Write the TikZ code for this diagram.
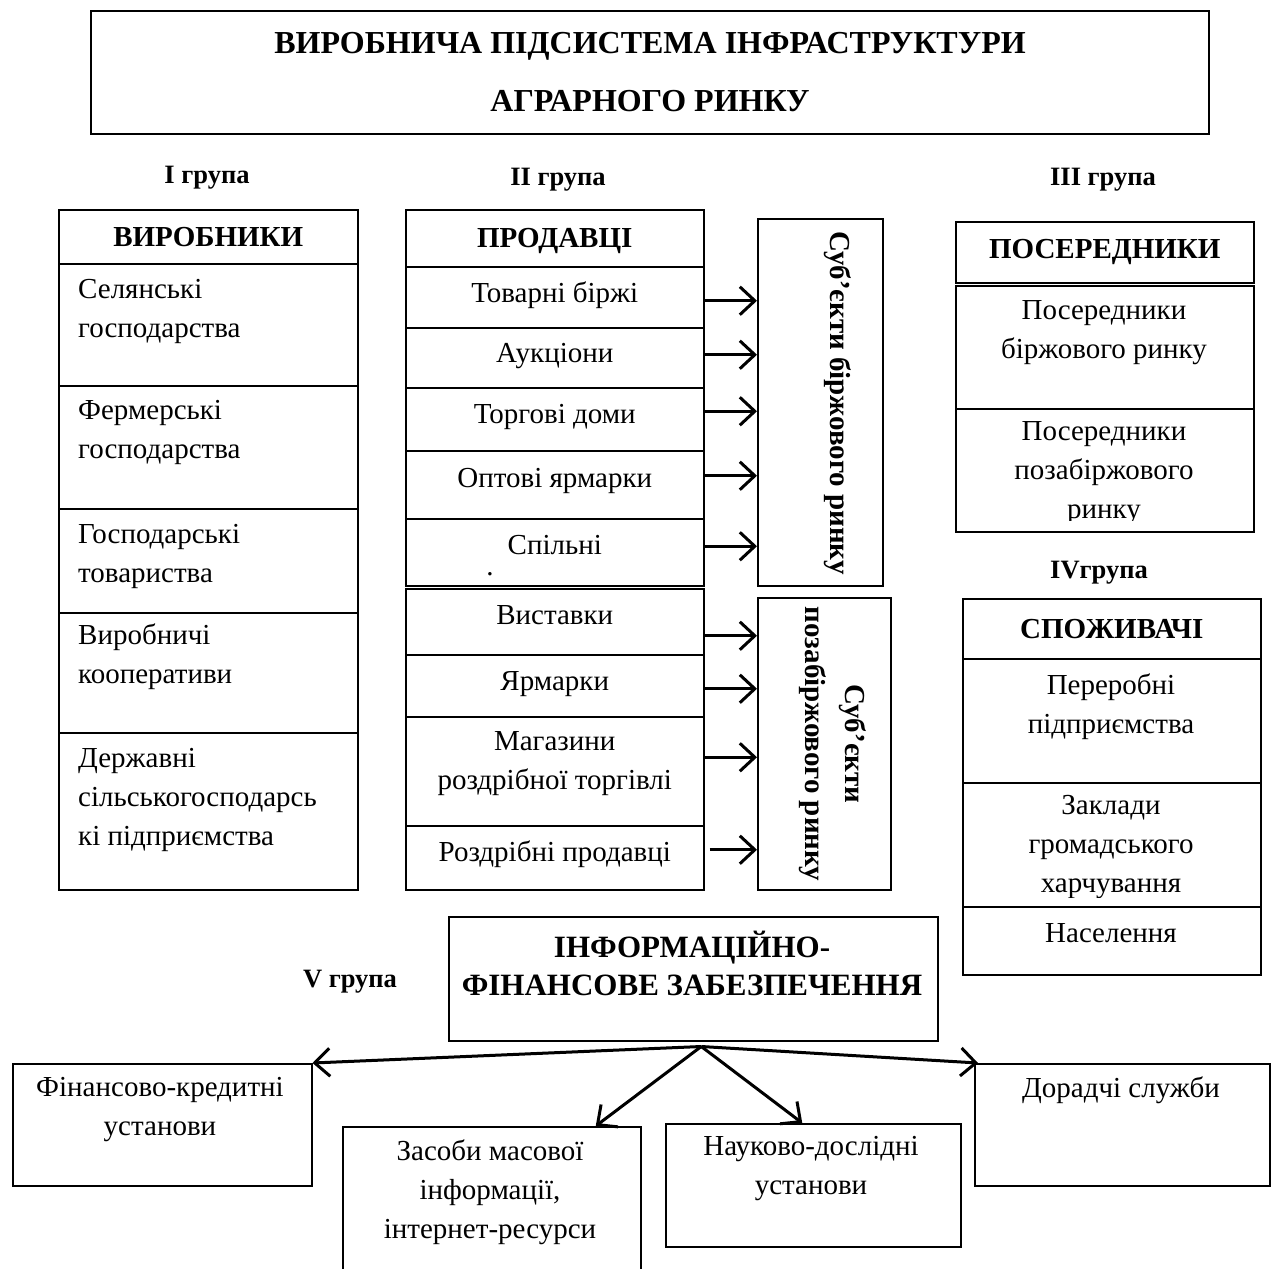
\documentclass[tikz,border=0pt]{standalone}
\usepackage{fontspec}
\setmainfont{Liberation Serif}
\usetikzlibrary{arrows.meta, positioning}
\begin{document}
\begin{tikzpicture}
    [x=1pt, y=-1pt,
    font=\fontsize{29}{39}\selectfont,
    box/.style={draw=black, line width=1.5pt, inner sep=0pt, anchor=north west},
    head/.style={font=\fontsize{29}{39}\selectfont\bfseries},
    cell/.style={box, minimum width=298pt, text depth=10pt, align=center},
    txt/.style={inner sep=0pt, align=center},
    txtl/.style={inner sep=0pt, align=left, anchor=north west},
    grp/.style={inner sep=0pt, font=\fontsize{26.5}{30}\selectfont\bfseries},
    arr/.style={line width=3pt, -{Straight Barb[length=15pt, width=28pt]}}]
    \clip (0,0) rectangle (1276,1268);
    % title
    \node [box, line width=2pt, minimum width=1118pt, minimum height=123pt, align=center,
        font=\fontsize{32}{58}\selectfont\bfseries] (title) at (90,10)
        {ВИРОБНИЧА ПІДСИСТЕМА ІНФРАСТРУКТУРИ\\АГРАРНОГО РИНКУ};
    \node [grp] (grp1) at (207,178) {I група};
    \node [grp] (grp2) at (558,180) {II група};
    \node [grp] (grp3) at (1103,180) {III група};
    \node [grp] (grp4) at (1099,573) {IVгрупа};
    \node [grp] (grp5) at (350,982) {V група};
    % I group
    \node [box, head, minimum width=299pt, minimum height=54pt] (vyrobnyky) at (58,209) {ВИРОБНИКИ};
    \node [box, minimum width=299pt, minimum height=122pt] (selyanski) at (58,263) {};
    \node [box, minimum width=299pt, minimum height=123pt] (fermerski) at (58,385) {};
    \node [box, minimum width=299pt, minimum height=104pt] (gosptov) at (58,508) {};
    \node [box, minimum width=299pt, minimum height=120pt] (vyrkoop) at (58,612) {};
    \node [box, minimum width=299pt, minimum height=157pt] (derzh) at (58,732) {};
    \node [txtl, below right=16pt and 20pt of selyanski.north west] (tselyanski) {Селянські\\господарства};
    \node [txtl, below right=15pt and 20pt of fermerski.north west] (tfermerski) {Фермерські\\господарства};
    \node [txtl, below right=16pt and 20pt of gosptov.north west] (tgosptov) {Господарські\\товариства};
    \node [txtl, below right=12pt and 20pt of vyrkoop.north west] (tvyrkoop) {Виробничі\\кооперативи};
    \node [txtl, below right=16pt and 20pt of derzh.north west] (tderzh) {Державні\\сільськогосподарсь\\кі підприємства};
    % II group
    \node [box, head, minimum width=298pt, minimum height=57pt, text depth=0pt] (prodavtsi) at (405,209) {ПРОДАВЦІ};
    \node [cell, minimum height=61pt] (birzhi) at (405,266) {Товарні біржі};
    \node [cell, minimum height=60pt] (auktsiony) at (405,327) {Аукціони};
    \node [cell, minimum height=63pt] (torgdomy) at (405,387) {Торгові доми};
    \node [cell, minimum height=68pt, text depth=14pt] (optovi) at (405,450) {Оптові ярмарки};
    \node [cell, minimum height=67pt, text depth=14pt] (spilni) at (405,518) {Спільні};
    \node [txt] (tdot) at (490,574) {.};
    \node [cell, minimum height=66pt, text depth=14pt] (vystavky) at (405,588) {Виставки};
    \node [cell, minimum height=62pt] (yarmarky) at (405,654) {Ярмарки};
    \node [cell, minimum height=109pt, text depth=22pt] (magazyny) at (405,716) {Магазини\\роздрібної торгівлі};
    \node [cell, minimum height=64pt, text depth=14pt] (rozdribni) at (405,825) {Роздрібні продавці};
    \node [box, minimum width=125pt, minimum height=367pt] (subbirzh) at (757,218) {};
    \node [txt, rotate=-90, font=\fontsize{29}{39}\selectfont\bfseries] (tsubbirzh) at (838,403) {Суб’єкти біржового ринку};
    \node [box, minimum width=133pt, minimum height=292pt] (subpozab) at (757,597) {};
    \node [txt, rotate=-90, font=\fontsize{29}{40}\selectfont\bfseries] (tsubpozab) at (833,744) {Суб’єкти\\позабіржового ринку};
    \draw [arr] ([yshift=-3.5pt]birzhi.east) -- ([yshift=-3.5pt]birzhi.east -| subbirzh.west);
    \draw [arr] ([yshift=3pt]auktsiony.east) -- ([yshift=3pt]auktsiony.east -| subbirzh.west);
    \draw [arr] ([yshift=8pt]torgdomy.east) -- ([yshift=8pt]torgdomy.east -| subbirzh.west);
    \draw [arr] ([yshift=9pt]optovi.east) -- ([yshift=9pt]optovi.east -| subbirzh.west);
    \draw [arr] ([yshift=6pt]spilni.east) -- ([yshift=6pt]spilni.east -| subbirzh.west);
    \draw [arr] ([yshift=-14pt]vystavky.east) -- ([yshift=-14pt]vystavky.east -| subpozab.west);
    \draw [arr] ([yshift=-3pt]yarmarky.east) -- ([yshift=-3pt]yarmarky.east -| subpozab.west);
    \draw [arr] ([yshift=14pt]magazyny.east) -- ([yshift=14pt]magazyny.east -| subpozab.west);
    \draw [arr] ([yshift=8pt, xshift=5pt]rozdribni.east) -- ([yshift=8pt]rozdribni.east -| subpozab.west);
    % III group
    \node [box, head, minimum width=298pt, minimum height=61pt] (poserednyky) at (955,221) {ПОСЕРЕДНИКИ};
    \node [box, minimum width=298pt, minimum height=123pt] (posbirzh) at (955,285) {};
    \node [box, minimum width=298pt, minimum height=123pt] (pospozab) at (955,408) {};
    \node [txt] (tposbirzh) at (1104,333) {Посередники\\біржового ринку};
    \begin{scope}
        \clip (955,408) rectangle (1253,520);
        \node [txt] (tpospozab) at (1104,473) {Посередники\\позабіржового\\ринку};
    \end{scope}
    % IV group
    \node [box, head, minimum width=298pt, minimum height=60pt] (spozhyvachi) at (962,598) {СПОЖИВАЧІ};
    \node [box, minimum width=298pt, minimum height=124pt] (pererobni) at (962,658) {};
    \node [box, minimum width=298pt, minimum height=124pt] (zaklady) at (962,782) {};
    \node [box, minimum width=298pt, minimum height=68pt] (naselennya) at (962,906) {};
    \node [txt] (tpererobni) at (1111,707) {Переробні\\підприємства};
    \begin{scope}
        \clip (962,782) rectangle (1260,897);
        \node [txt] (tzaklady) at (1111,847) {Заклади\\громадського\\харчування};
    \end{scope}
    \node [txt] (tnaselennya) at (1111,933) {Населення};
    % V group
    \node [box, minimum width=489pt, minimum height=124pt] (infofin) at (448,916) {};
    \node [txt, font=\fontsize{31}{38}\selectfont\bfseries] (tinfofin) at (692,963) {ІНФОРМАЦІЙНО-\\ФІНАНСОВЕ ЗАБЕЗПЕЧЕННЯ};
    \node [box, minimum width=299pt, minimum height=122pt] (finkred) at (12,1063) {};
    \node [box, minimum width=298pt, minimum height=170pt] (zmi) at (342,1126) {};
    \node [box, minimum width=295pt, minimum height=123pt] (naukdosl) at (665,1123) {};
    \node [box, minimum width=295pt, minimum height=122pt] (doradchi) at (974,1063) {};
    \node [txt] (tfinkred) at (160,1110) {Фінансово-кредитні\\установи};
    \node [txt] (tzmi) at (490,1192) {Засоби масової\\інформації,\\інтернет-ресурси};
    \node [txt] (tnaukdosl) at (811,1169) {Науково-дослідні\\установи};
    \node [txt] (tdoradchi) at (1121,1090) {Дорадчі служби};
    \coordinate (hub) at ([xshift=8pt, yshift=-5pt]infofin.south);
    \draw [arr] (hub) -- (finkred.north east);
    \draw [arr] (hub) -- ([xshift=104pt]zmi.north);
    \draw [arr] (hub) -- ([xshift=-11pt]naukdosl.north);
    \draw [arr] (hub) -- ([xshift=4pt]doradchi.north west);
\end{tikzpicture}
\end{document}
